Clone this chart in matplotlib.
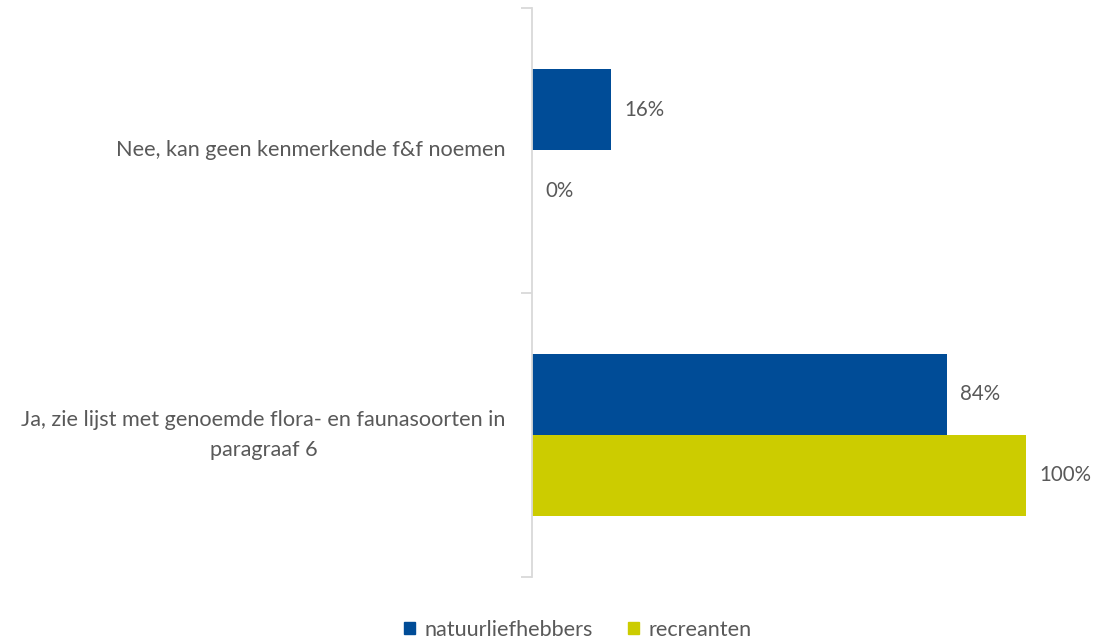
import matplotlib
matplotlib.use('Agg')
import matplotlib.pyplot as plt
from matplotlib.patches import Patch

# Data
categories = ['Ja, zie lijst met genoemde flora- en faunasoorten in\nparagraaf 6',
              'Nee, kan geen kenmerkende f&f noemen']
series_names = ['natuurliefhebbers', 'recreanten']
natuur = [84, 16]
recreanten = [100, 0]

COLORS = {'natuurliefhebbers': '#004C97', 'recreanten': '#CCCC00'}
TEXT = '#595959'
AXIS = '#D9D9D9'

plt.rcParams['font.family'] = ['Lato', 'DejaVu Sans']

W, H = 1097, 640
fig = plt.figure(figsize=(W / 100, H / 100), dpi=100)
ax = fig.add_axes([532 / W, 1 - 577 / H, 494 / W, 569 / H])

bh = 0.285
for i, (n, r) in enumerate(zip(natuur, recreanten)):
    ax.barh(i + bh / 2, n, height=bh, color=COLORS['natuurliefhebbers'])
    ax.barh(i - bh / 2, r, height=bh, color=COLORS['recreanten'])
    ax.text(n + 2.7, i + bh / 2, f'{n}%', va='center', ha='left', color=TEXT,
            fontsize=14.8, clip_on=False)
    ax.text(r + 2.7, i - bh / 2, f'{r}%', va='center', ha='left', color=TEXT,
            fontsize=14.8, clip_on=False)

ax.set_xlim(0, 100)
ax.set_ylim(-0.5, len(categories) - 0.5)
ax.set_xticks([])
ax.set_yticks([-0.5, 0.5, 1.5])
ax.set_yticklabels([])
ax.tick_params(axis='y', length=8, width=1.3, color=AXIS, direction='out')
for s in ['top', 'right', 'bottom']:
    ax.spines[s].set_visible(False)
ax.spines['left'].set_color(AXIS)
ax.spines['left'].set_linewidth(1.3)

for i, c in enumerate(categories):
    ax.text(-0.053, i, c, transform=ax.get_yaxis_transform(), ha='right',
            va='center', multialignment='center', color=TEXT, fontsize=15.6,
            linespacing=1.6)

handles = [Patch(color=COLORS[s]) for s in series_names]
fig.legend(handles, series_names, loc='center', bbox_to_anchor=(578 / W, 1 - 630 / H),
           ncol=2, frameon=False, fontsize=15.6, labelcolor=TEXT,
           handlelength=0.5, handleheight=0.5, handletextpad=0.45, columnspacing=1.6)

fig.savefig('out.png', dpi=100)
